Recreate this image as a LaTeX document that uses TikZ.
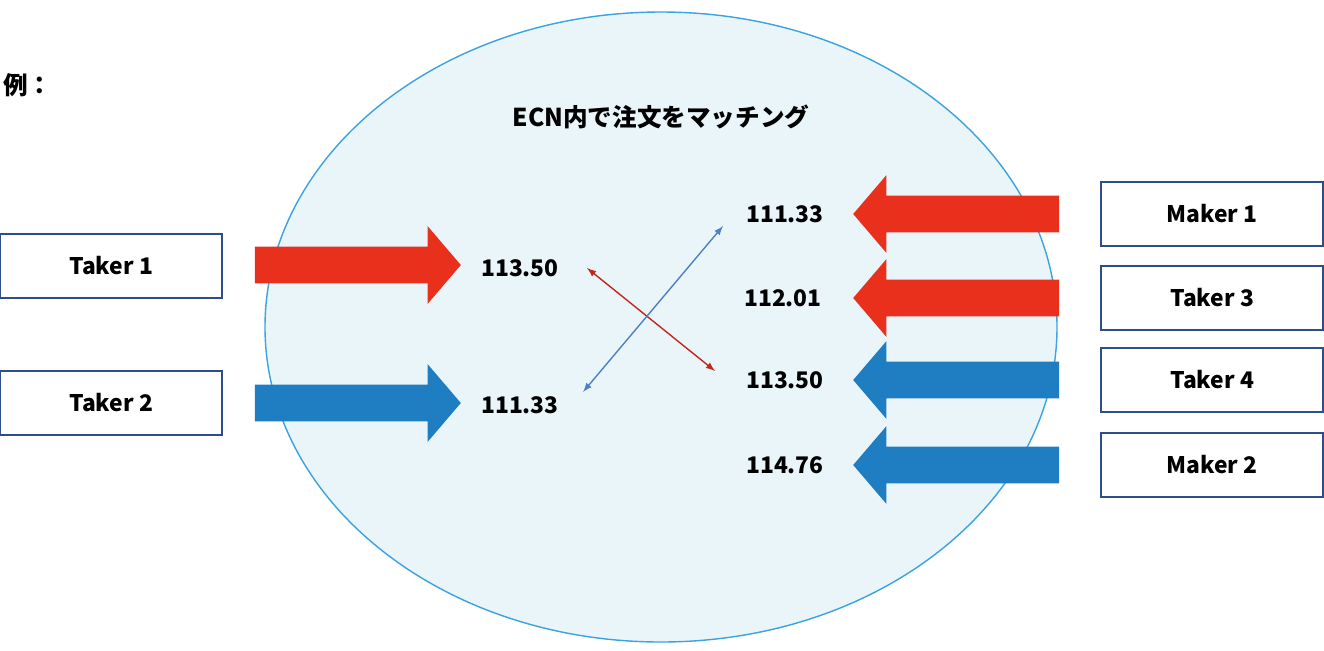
\documentclass[tikz,border=0pt]{standalone}
\usepackage{fontspec}
\setmainfont{Noto Sans CJK JP}
\usetikzlibrary{shapes.arrows}
\definecolor{ordred}{HTML}{E8301C}
\definecolor{ordblue}{HTML}{1F7EC1}
\definecolor{ecnfill}{HTML}{EAF5FA}
\definecolor{ecnline}{HTML}{3AA3E0}
\definecolor{boxline}{HTML}{2E4D8C}
\definecolor{xred}{HTML}{C0281C}
\definecolor{xblue}{HTML}{4F7FC6}
\begin{document}
\begin{tikzpicture}[x=0.02cm,y=-0.02cm,>=latex,
  party/.style={draw=boxline,thick,minimum width=4.44cm,minimum height=1.28cm,
    font=\fontsize{13}{15}\selectfont\bfseries},
  price/.style={font=\fontsize{13}{15}\selectfont\bfseries},
  order/.style={single arrow,fill=#1,minimum height=4.12cm,minimum width=1.54cm,
    inner sep=0.36cm,single arrow head extend=0.41cm,single arrow tip angle=99}]
\useasboundingbox (0,0) rectangle (1324,650);
\fill[ecnfill,draw=ecnline,thick] (661,327) ellipse [x radius=396,y radius=315];
\node[font=\fontsize{14}{16}\selectfont\bfseries] (title) at (661,117) {ECN内で注文をマッチング};
\node[font=\fontsize{14}{16}\selectfont\bfseries] (ex) at (28,85) {例：};

% takers on the left
\node[party] (t1) at (111,266) {Taker 1};
\node[party] (t2) at (111,403) {Taker 2};
\node[order=ordred] (a1) at (350,265) {};
\node[order=ordblue] (a2) at (350,403) {};
\node[price] (p1) at (520,268) {113.50};
\node[price] (p2) at (520,405) {111.33};

% order book on the right
\foreach \name/\txt/\col/\y/\px [count=\i] in
  {Maker 1/111.33/ordred/214/785, Taker 3/112.01/ordred/298/783,
   Taker 4/113.50/ordblue/380/785, Maker 2/114.76/ordblue/465/785}{
  \node[party] (r\i) at (1212,\y) {\name};
  \node[order=\col,shape border rotate=180] (b\i) at (964,\y) {};
  \node[price] (q\i) at (\px,\y) {\txt};
}

% matches
\coordinate (m1) at (587,268);
\coordinate (m2) at (715,371);
\coordinate (m3) at (583,392);
\coordinate (m4) at (723,226);
\draw[<->,xred,thick] (m1) -- (m2);
\draw[<->,xblue,thick] (m3) -- (m4);
\end{tikzpicture}
\end{document}
